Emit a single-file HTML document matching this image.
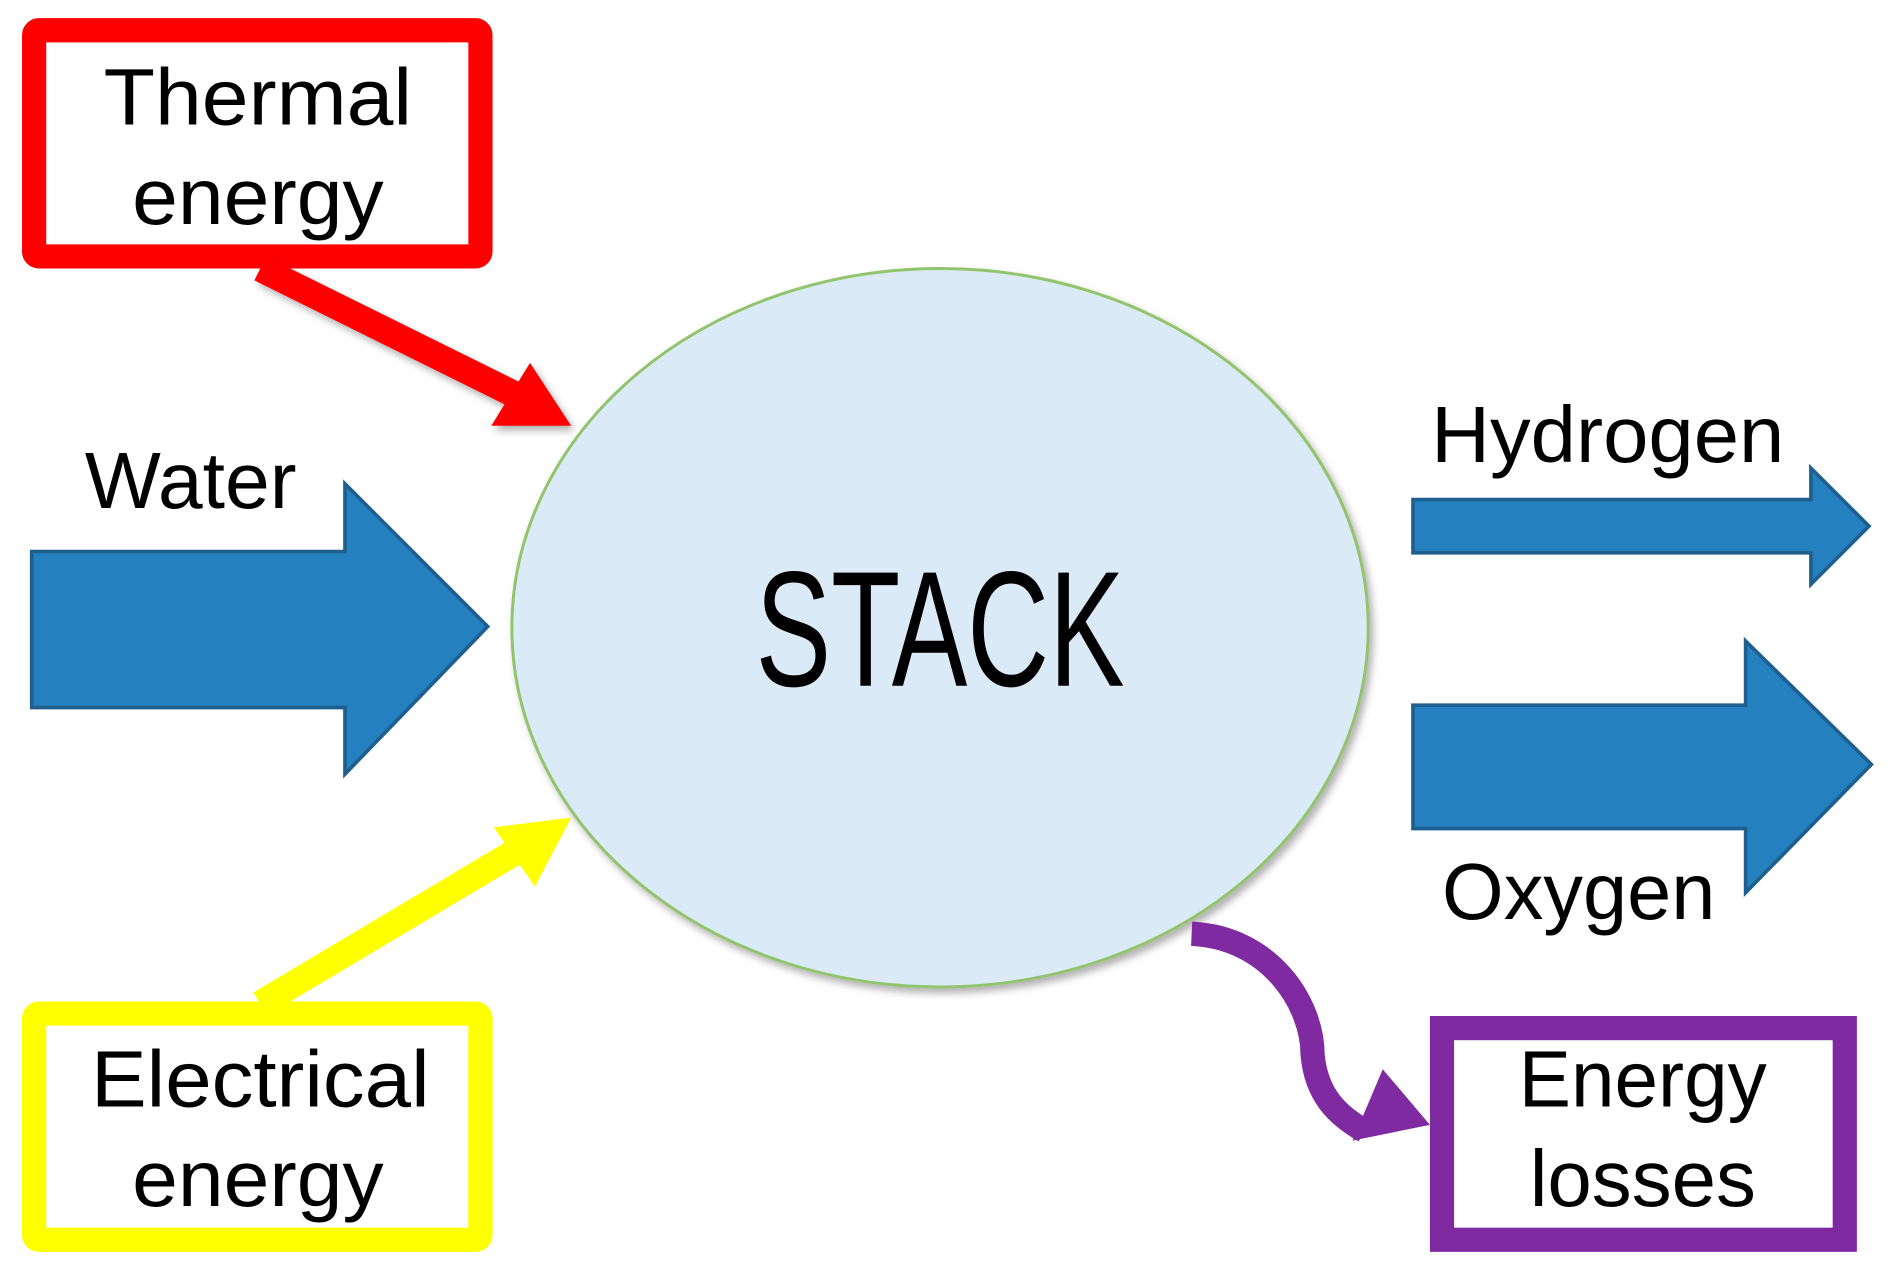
<!DOCTYPE html>
<html><head><meta charset="utf-8"><style>
html,body{margin:0;padding:0;background:#fff;}
svg{display:block;}
text{font-family:"Liberation Sans","DejaVu Sans",sans-serif;fill:#000;}
</style></head><body>
<svg width="1891" height="1270" viewBox="0 0 1563 1050" xmlns="http://www.w3.org/2000/svg">
<defs>
<filter id="sh" x="-10%" y="-10%" width="130%" height="130%"><feDropShadow dx="3" dy="4" stdDeviation="3" flood-color="#000" flood-opacity="0.3"/></filter>
</defs>
<!-- Ellipse -->
<ellipse cx="777" cy="519" rx="354" ry="297" fill="#dbeaf7" stroke="#92c46e" stroke-width="2.5" filter="url(#sh)"/>
<text x="777" y="567" font-size="136" text-anchor="middle" textLength="305" lengthAdjust="spacingAndGlyphs">STACK</text>

<!-- Red box -->
<rect x="28" y="25" width="369" height="187" rx="4" fill="#fff" stroke="#ff0000" stroke-width="20"/>
<text x="213" y="103" font-size="66" text-anchor="middle" textLength="255" lengthAdjust="spacingAndGlyphs">Thermal</text>
<text x="213" y="185" font-size="66" text-anchor="middle" textLength="208" lengthAdjust="spacingAndGlyphs">energy</text>
<!-- Red arrow -->
<g filter="url(#sh)">
<line x1="215" y1="222" x2="425" y2="326" stroke="#ff0000" stroke-width="22"/>
<polygon points="472,352 406,352 438,300" fill="#ff0000"/>
</g>

<!-- Water -->
<text x="70" y="420" font-size="66" textLength="175" lengthAdjust="spacingAndGlyphs">Water</text>
<polygon points="26,456 285,456 285,400 403,518 285,640 285,585 26,585" fill="#2580bf" stroke="#1d5f8e" stroke-width="3"/>

<!-- Hydrogen -->
<text x="1183" y="382" font-size="66" textLength="292" lengthAdjust="spacingAndGlyphs">Hydrogen</text>
<polygon points="1168,413 1497,413 1497,387 1545,435 1497,483 1497,457 1168,457" fill="#2580bf" stroke="#1d5f8e" stroke-width="3"/>

<!-- Oxygen -->
<polygon points="1168,583 1443,583 1443,530 1547,632 1443,738 1443,685 1168,685" fill="#2580bf" stroke="#1d5f8e" stroke-width="3"/>
<text x="1192" y="760" font-size="66" textLength="226" lengthAdjust="spacingAndGlyphs">Oxygen</text>

<!-- Yellow box -->
<rect x="28" y="838" width="369" height="187" rx="4" fill="#fff" stroke="#ffff00" stroke-width="20"/>
<text x="215" y="915" font-size="66" text-anchor="middle" textLength="280" lengthAdjust="spacingAndGlyphs">Electrical</text>
<text x="213" y="997" font-size="66" text-anchor="middle" textLength="208" lengthAdjust="spacingAndGlyphs">energy</text>
<!-- Yellow arrow -->
<line x1="215" y1="830" x2="428" y2="703" stroke="#ffff00" stroke-width="22"/>
<polygon points="472,676 408,684 442,733" fill="#ffff00"/>

<!-- Purple curve arrow -->
<path d="M985,772 C1050,775 1085,830 1085,872 C1088,905 1105,922 1128,935" fill="none" stroke="#7f2aa0" stroke-width="20"/>
<polygon points="1182,930 1118,943 1143,884" fill="#7f2aa0"/>
<!-- Purple box -->
<rect x="1192" y="850" width="333" height="175" fill="#fff" stroke="#7f2aa0" stroke-width="20"/>
<text x="1358" y="915" font-size="66" text-anchor="middle" textLength="205" lengthAdjust="spacingAndGlyphs">Energy</text>
<text x="1358" y="997" font-size="66" text-anchor="middle" textLength="187" lengthAdjust="spacingAndGlyphs">losses</text>
</svg>
</body></html>
